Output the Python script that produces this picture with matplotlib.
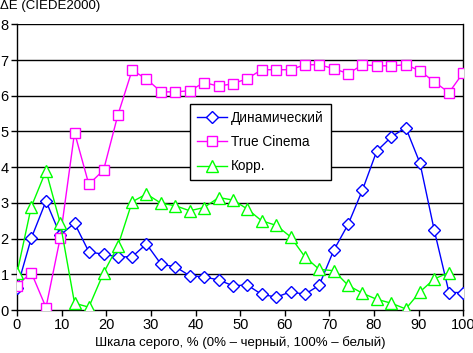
import matplotlib.pyplot as plt

plt.rcParams['font.family'] = ['Liberation Sans', 'DejaVu Sans']

# шкала серого, %
x = [0, 3.2, 6.5, 9.7, 12.9, 16.1, 19.4, 22.6, 25.8, 29.0, 32.3, 35.5, 38.7, 41.9, 45.2, 48.4,
     51.6, 54.8, 58.1, 61.3, 64.5, 67.7, 71.0, 74.2, 77.4, 80.6, 83.9, 87.1, 90.3, 93.5, 96.8, 100]

dyn = [0.61, 2.01, 3.05, 2.1, 2.43, 1.63, 1.56, 1.49, 1.49, 1.85, 1.28, 1.21, 0.96, 0.93, 0.84, 0.68,
       0.70, 0.44, 0.36, 0.51, 0.44, 0.69, 1.68, 2.40, 3.36, 4.45, 4.85, 5.11, 4.11, 2.23, 0.49, 0.49]

cinema = [0.68, 1.05, 0.07, 2.03, 4.97, 3.52, 3.92, 5.46, 6.72, 6.47, 6.11, 6.11, 6.14, 6.37, 6.27, 6.34,
          6.48, 6.73, 6.73, 6.73, 6.87, 6.87, 6.76, 6.62, 6.87, 6.84, 6.84, 6.87, 6.70, 6.39, 6.09, 6.65]

korr = [1.03, 2.89, 3.9, 2.43, 0.19, 0.08, 1.04, 1.79, 3.03, 3.25, 2.99, 2.92, 2.78, 2.87, 3.15, 3.08,
        2.83, 2.50, 2.37, 2.05, 1.49, 1.14, 1.10, 0.69, 0.47, 0.30, 0.19, 0.03, 0.51, 0.87, 1.05]

fig = plt.figure(figsize=(4.73, 3.53), dpi=100)
ax = fig.add_axes([0.0359, 0.1218, 0.9436, 0.8091])

for v in range(1, 9):
    ax.axhline(v, color='black', lw=1.0, zorder=1)

ax.plot(x, dyn, color='#0000FF', lw=1, marker='D', ms=6.5, mfc='white', mec='#0000FF', mew=1,
        label='Динамический', zorder=3)
ax.plot(x, cinema, color='#FF00FF', lw=1, marker='s', ms=7.5, mfc='white', mec='#FF00FF', mew=1,
        label='True Cinema', zorder=3)
ax.plot(x[:len(korr)], korr, color='#00FF00', lw=1, marker='^', ms=8, mfc='white', mec='#00FF00', mew=1,
        label='Корр.', zorder=3)

ax.set_xlim(0, 100)
ax.set_ylim(0, 8)
ax.set_xticks(range(0, 101, 10))
ax.set_yticks(range(0, 9))
ax.tick_params(labelsize=10.5, length=4, width=1, pad=2, color='black')
for s in ax.spines.values():
    s.set_linewidth(1)
    s.set_color('black')
ax.spines['top'].set_visible(False)

fig.text(0.0, 1.0, 'ΔE (CIEDE2000)', fontsize=9.5, ha='left', va='top')
ax.set_xlabel('Шкала серого, % (0% – черный, 100% – белый)', fontsize=9.5, labelpad=3)

leg = ax.legend(loc='upper left', bbox_to_anchor=(0.388, 0.721), fontsize=9.8, frameon=True,
                fancybox=False, framealpha=1, edgecolor='black', handlelength=2.2,
                borderpad=0.5, labelspacing=0.75, handletextpad=0.3, borderaxespad=0)
leg.get_frame().set_linewidth(1)
leg.set_zorder(5)

fig.savefig('out.png', dpi=100)
